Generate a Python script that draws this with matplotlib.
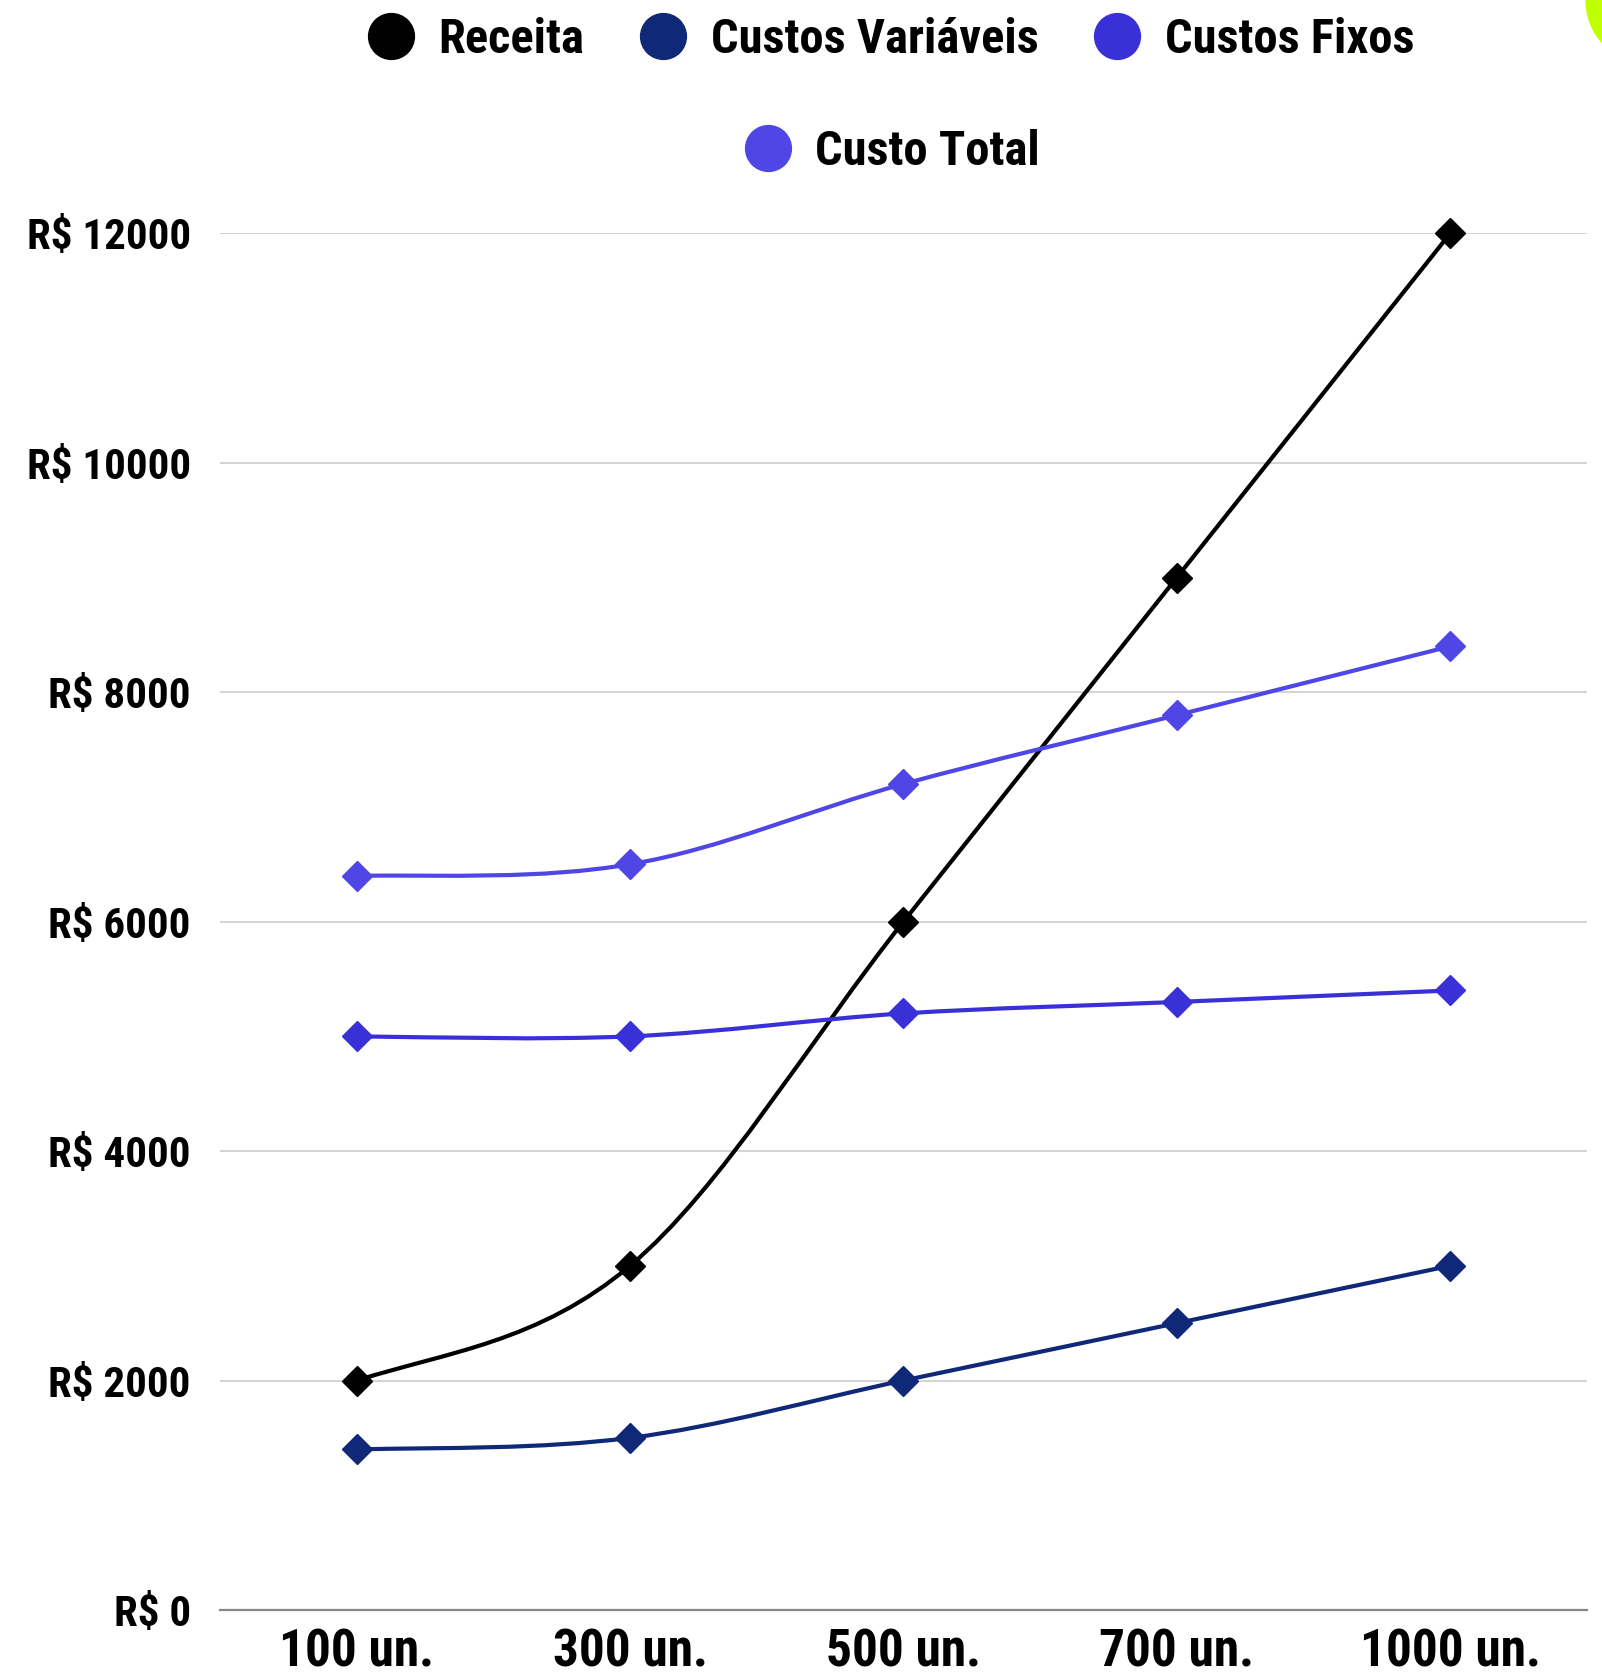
import matplotlib
matplotlib.use('Agg')
import matplotlib.pyplot as plt
from matplotlib.path import Path
from matplotlib.patches import PathPatch, Circle
from matplotlib.lines import Line2D

categorias = ['100 un.', '300 un.', '500 un.', '700 un.', '1000 un.']
receita = [2000, 3000, 6000, 9000, 12000]
custos_variaveis = [1400, 1500, 2000, 2500, 3000]
custos_fixos = [5000, 5000, 5200, 5300, 5400]
custo_total = [6400, 6500, 7200, 7800, 8400]
y_ticks = [0, 2000, 4000, 6000, 8000, 10000, 12000]
y_labels = ['R$ %d' % v for v in y_ticks]

series = [
    ('Receita', receita, '#000000'),
    ('Custos Variáveis', custos_variaveis, '#0f2878'),
    ('Custos Fixos', custos_fixos, '#3a30d8'),
    ('Custo Total', custo_total, '#4f46e5'),
]

plt.rcParams['font.family'] = ['Roboto Condensed', 'Liberation Sans Narrow',
                               'DejaVu Sans']
plt.rcParams['font.stretch'] = 'condensed'
plt.rcParams['font.weight'] = 'bold'


def curva_suave(xs, ys):
    # bezier tipo catmull-rom passando pelos pontos
    n = len(xs)
    tang = [0.0] * n
    for i in range(1, n - 1):
        tang[i] = (ys[i + 1] - ys[i - 1]) / (xs[i + 1] - xs[i - 1])
    s0 = (ys[1] - ys[0]) / (xs[1] - xs[0])
    s1 = (ys[-1] - ys[-2]) / (xs[-1] - xs[-2])
    # nas pontas: meio termo entre a secante e a condicao "natural"
    tang[0] = (s0 + (3 * s0 - tang[1]) / 2) / 2
    tang[-1] = (s1 + (3 * s1 - tang[-2]) / 2) / 2
    verts = [(xs[0], ys[0])]
    codes = [Path.MOVETO]
    for i in range(n - 1):
        dx = (xs[i + 1] - xs[i]) / 3
        verts += [(xs[i] + dx, ys[i] + tang[i] * dx),
                  (xs[i + 1] - dx, ys[i + 1] - tang[i + 1] * dx),
                  (xs[i + 1], ys[i + 1])]
        codes += [Path.CURVE4] * 3
    return Path(verts, codes)


fig = plt.figure(figsize=(16.02, 16.8), dpi=100)
ax = fig.add_axes([0.1373, 0.0417, 0.8533, 0.8194])

x = list(range(len(categorias)))
for i, (nome, vals, cor) in enumerate(series):
    z = 5 + i
    ax.add_patch(PathPatch(curva_suave(x, vals), fill=False, edgecolor=cor,
                           lw=3.0, zorder=z, capstyle='round'))
    ax.plot(x, vals, 'D', color=cor, ms=15, clip_on=False, zorder=z + 0.5)

ax.set_xlim(-0.5, len(categorias) - 0.5)
ax.set_ylim(0, 12000)
ax.set_xticks(x)
ax.set_xticklabels(categorias, fontsize=37)
ax.set_yticks(y_ticks)
ax.set_yticklabels(y_labels, fontsize=31)
ax.tick_params(length=0)
ax.tick_params(axis='y', pad=21)
ax.tick_params(axis='x', pad=13)
ax.grid(axis='y', color='#c8c8c8', lw=1.1, zorder=0)
for s in ['top', 'right', 'left']:
    ax.spines[s].set_visible(False)
ax.spines['bottom'].set_color('#888888')
ax.spines['bottom'].set_linewidth(1.6)
ax.set_axisbelow(True)

handles = [Line2D([], [], marker='o', linestyle='none', color=c, ms=33)
           for _, _, c in series]
nomes = [n for n, _, _ in series]
opts = dict(frameon=False, fontsize=35, handlelength=0.95, handletextpad=0.5,
            columnspacing=1.15, borderpad=0, borderaxespad=0, loc='center')
leg1 = fig.legend(handles[:3], nomes[:3], ncol=3,
                  bbox_to_anchor=(891 / 1602, 1 - 40 / 1680), **opts)
leg2 = fig.legend(handles[3:], nomes[3:], ncol=1,
                  bbox_to_anchor=(892 / 1602, 1 - 152 / 1680), **opts)

# detalhe verde no canto
fig.add_artist(Circle((16.5, 16.8), 0.64, transform=fig.dpi_scale_trans,
                      color='#c0ff00'))

fig.savefig('out.png', dpi=100)
